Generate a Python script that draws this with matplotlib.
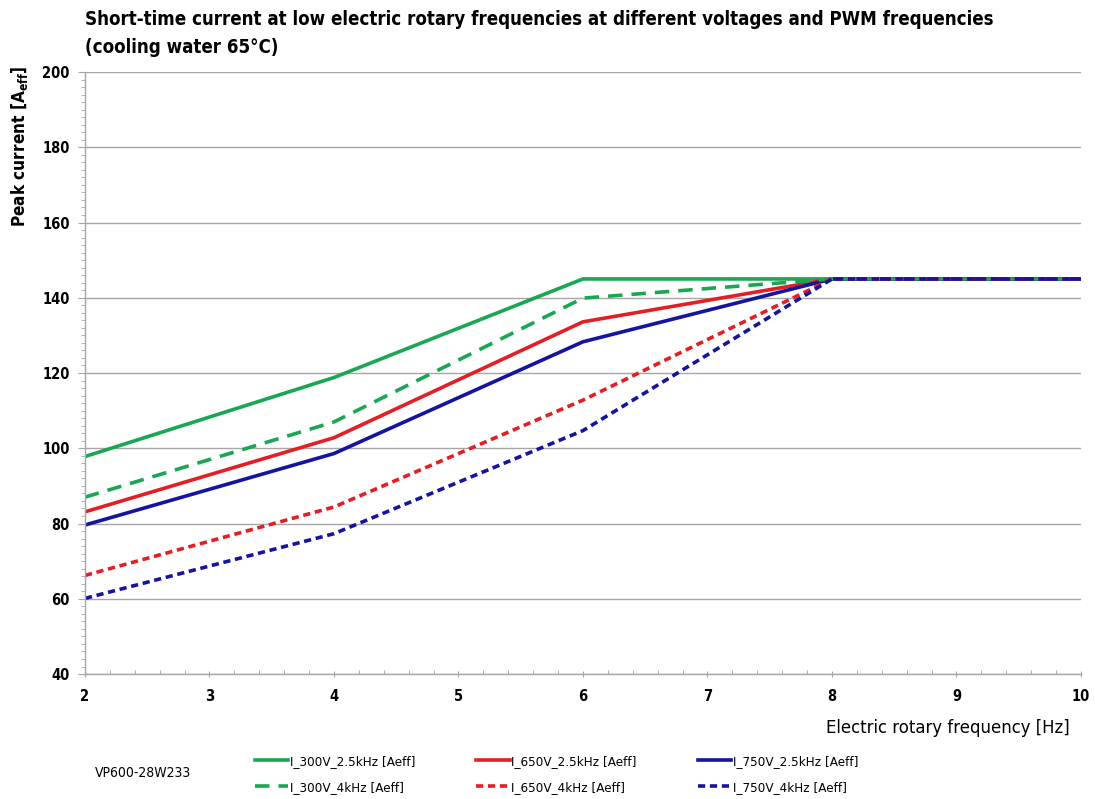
import matplotlib.pyplot as plt
from matplotlib.ticker import MultipleLocator

# Data
freq = [2, 4, 6, 8, 10]
i_300v_25k = [97.8, 118.8, 145.0, 145.0, 145.0]
i_650v_25k = [83.1, 102.8, 133.6, 145.0, 145.0]
i_750v_25k = [79.6, 98.6, 128.3, 145.0, 145.0]
i_300v_4k = [87.0, 107.0, 139.9, 145.0, 145.0]
i_650v_4k = [66.2, 84.4, 112.8, 145.0, 145.0]
i_750v_4k = [60.1, 77.3, 104.7, 145.0, 145.0]

labels = ["I_300V_2.5kHz [Aeff]", "I_650V_2.5kHz [Aeff]", "I_750V_2.5kHz [Aeff]",
          "I_300V_4kHz [Aeff]", "I_650V_4kHz [Aeff]", "I_750V_4kHz [Aeff]"]

green = "#1aa653"
red = "#e31e24"
blue = "#1414a0"

plt.rcParams['font.family'] = ['DejaVu Sans']
plt.rcParams['font.stretch'] = 'condensed'

fig = plt.figure(figsize=(10.95, 7.99), dpi=100)
ax = fig.add_axes([0.0776, 0.1564, 0.9096, 0.7535])

lw = 2.6
l1, = ax.plot(freq, i_300v_25k, color=green, lw=lw)
l2, = ax.plot(freq, i_650v_25k, color=red, lw=lw)
l3, = ax.plot(freq, i_750v_25k, color=blue, lw=lw)
l4, = ax.plot(freq, i_300v_4k, color=green, lw=lw, dashes=(4, 2.5))
l5, = ax.plot(freq, i_650v_4k, color=red, lw=lw, dashes=(2, 1.3))
l6, = ax.plot(freq, i_750v_4k, color=blue, lw=lw, dashes=(2, 1.3))

ax.set_xlim(2, 10)
ax.set_ylim(40, 200)
ax.xaxis.set_major_locator(MultipleLocator(1))
ax.xaxis.set_minor_locator(MultipleLocator(0.2))
ax.yaxis.set_major_locator(MultipleLocator(20))
ax.yaxis.set_minor_locator(MultipleLocator(2))
ax.grid(axis='y', which='major', color='#a6a6a6', lw=1)
ax.set_axisbelow(True)
for s in ['top', 'right']:
    ax.spines[s].set_visible(False)
for s in ['left', 'bottom']:
    ax.spines[s].set_color('#a6a6a6')
    ax.spines[s].set_linewidth(1)
ax.tick_params(axis='both', which='both', color='#a6a6a6')
ax.tick_params(axis='y', which='major', length=5, direction='out', labelsize=10.5, pad=6)
ax.tick_params(axis='y', which='minor', length=3, direction='out')
ax.tick_params(axis='x', which='major', length=5, direction='inout', labelsize=10.5, pad=8)
ax.tick_params(axis='x', which='minor', length=3, direction='in')
for t in ax.get_xticklabels() + ax.get_yticklabels():
    t.set_fontweight('bold')

fig.text(0.0776, 0.975, "Short-time current at low electric rotary frequencies at different voltages and PWM frequencies",
         fontsize=13.4, fontweight='bold', va='center', ha='left')
fig.text(0.0776, 0.941, "(cooling water 65°C)", fontsize=13.4, fontweight='bold', va='center', ha='left')
fig.text(0.018, 0.918, "Peak current [A$_{\\mathregular{eff}}$]", rotation=90, fontsize=12.3,
         fontweight='bold', va='top', ha='center')
fig.text(0.977, 0.089, "Electric rotary frequency [Hz]", fontsize=13.2, ha='right', va='center')
fig.text(0.087, 0.032, "VP600-28W233", fontsize=10, ha='left', va='center')

fig.legend([l1, l4, l2, l5, l3, l6],
           [labels[0], labels[3], labels[1], labels[4], labels[2], labels[5]],
           ncol=3, loc='center left', bbox_to_anchor=(0.222, 0.031), frameon=False,
           fontsize=9.6, handlelength=2.5, handletextpad=0.1, columnspacing=4.6,
           labelspacing=0.95)

fig.savefig("out.png", dpi=100)
